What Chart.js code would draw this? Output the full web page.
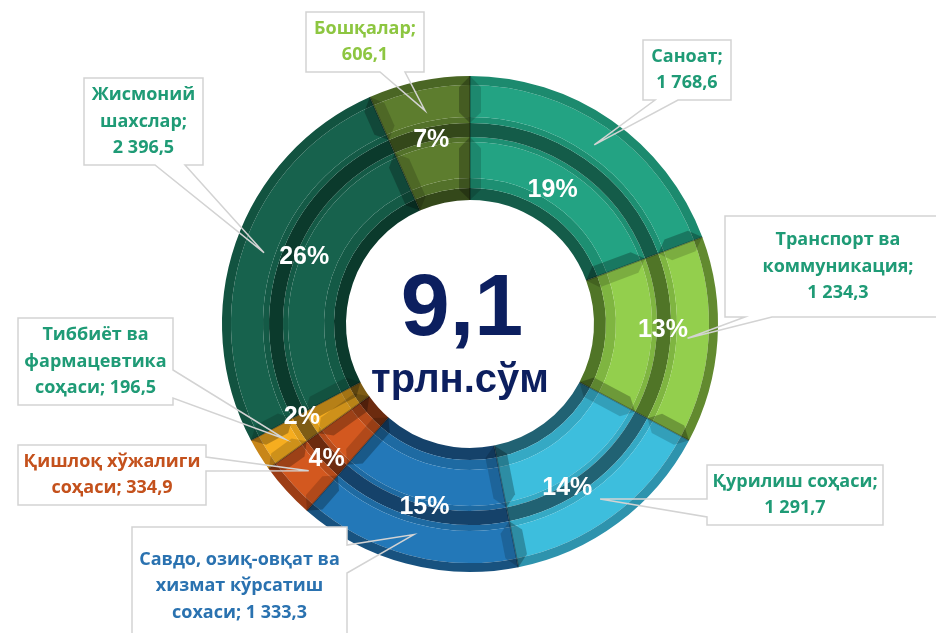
<!DOCTYPE html>
<html>
<head>
<meta charset="utf-8">
<script src="https://cdn.jsdelivr.net/npm/chart.js@4.4.0/dist/chart.umd.min.js"></script>
<style>
  html, body { margin: 0; padding: 0; background: #fff; }
  #wrap { width: 936px; height: 633px; }
</style>
</head>
<body>
<div id="wrap"><canvas id="chart" width="936" height="633"></canvas></div>
<script>
const categories = ['Саноат', 'Транспорт ва коммуникация', 'Қурилиш соҳаси', 'Савдо, озиқ-овқат ва хизмат кўрсатиш сохаси', 'Қишлоқ хўжалиги соҳаси', 'Тиббиёт ва фармацевтика соҳаси', 'Жисмоний шахслар', 'Бошқалар'];
const values = [1768.6, 1234.3, 1291.7, 1333.3, 334.9, 196.5, 2396.5, 606.1];
const totalText = '9,1';
const unitText = 'трлн.сўм';

// colours per segment
const baseColors = ['#23a383', '#93cf4d', '#3dbedd', '#2378b8', '#d3581f', '#f6ad1f', '#17624d', '#5d7d2e'];
const rimColors  = ['#1c8a6e', '#628a2f', '#2e93ad', '#18527f', '#9c3d15', '#c88619', '#125340', '#4a6624'];
const lipColors  = ['#1d8f72', '#7fb541', '#35a9c4', '#1e6aa2', '#b64b1a', '#dc9c1c', '#145a46', '#53712a'];
const darkColors = ['#145c49', '#507527', '#216273', '#15426a', '#6c2b0f', '#7e5c15', '#0b3a2c', '#34481a'];
const textColors = ['#1f9b76', '#1f9b76', '#1f9b76', '#2a72b0', '#c4511c', '#1f9b76', '#1f9b76', '#8dc641'];
const palette = { rim: rimColors, base: baseColors, lip: lipColors, dark: darkColors };

// ring bands, outer to inner (weights in px of the 124px ring)
const bands = [
  { w: 9, c: 'rim' }, { w: 32, c: 'base' }, { w: 6, c: 'lip' }, { w: 14, c: 'dark' },
  { w: 5, c: 'lip' }, { w: 36, c: 'base' }, { w: 10, c: 'lip' }, { w: 12, c: 'dark' }
];

// percent label placement: [radius, angle shift in degrees]
const pctAt = [[157, -3], [193, -2], [191, 6], [189, -1], [197, -1], [192, 3], [179, 3], [188, 0]];
const leaderR = 218;

// callout boxes: x, y, w, h, wedge side, wedge base a..b, words per line
const callouts = [
  { x: 643, y: 40, w: 88, h: 60, side: 'bottom', a: 655, b: 678, split: [1, 1] },
  { x: 725, y: 216, w: 226, h: 101, side: 'bottom', a: 745, b: 772, split: [2, 1, 1] },
  { x: 707, y: 465, w: 176, h: 60, side: 'left', a: 499, b: 517, split: [2, 1] },
  { x: 132, y: 527, w: 215, h: 118, side: 'right', a: 545, b: 573, split: [3, 2, 2] },
  { x: 18, y: 445, w: 188, h: 60, side: 'right', a: 457, b: 471, split: [2, 2] },
  { x: 18, y: 318, w: 155, h: 87, side: 'right', a: 370, b: 398, split: [2, 1, 2] },
  { x: 84, y: 78, w: 119, h: 87, side: 'bottom', a: 155, b: 185, split: [1, 1, 1] },
  { x: 306, y: 12, w: 118, h: 60, side: 'bottom', a: 380, b: 405, split: [1, 1] }
];

function fmt(v) {
  const parts = v.toFixed(1).split('.');
  return parts[0].replace(/\B(?=(\d{3})+(?!\d))/g, ' ') + ',' + parts[1];
}

function calloutPath(ctx, c, ax, ay) {
  const r = c.x + c.w, btm = c.y + c.h;
  ctx.beginPath();
  ctx.moveTo(c.x, c.y);
  if (c.side === 'top') { ctx.lineTo(c.a, c.y); ctx.lineTo(ax, ay); ctx.lineTo(c.b, c.y); }
  ctx.lineTo(r, c.y);
  if (c.side === 'right') { ctx.lineTo(r, c.a); ctx.lineTo(ax, ay); ctx.lineTo(r, c.b); }
  ctx.lineTo(r, btm);
  if (c.side === 'bottom') { ctx.lineTo(c.b, btm); ctx.lineTo(ax, ay); ctx.lineTo(c.a, btm); }
  ctx.lineTo(c.x, btm);
  if (c.side === 'left') { ctx.lineTo(c.x, c.b); ctx.lineTo(ax, ay); ctx.lineTo(c.x, c.a); }
  ctx.closePath();
}

// mitred bevel strip along a radial edge of one sub-ring
function bevel(ctx, cx, cy, a, dir, rin, rout, b, style) {
  const p = (rr, ang) => [cx + rr * Math.cos(ang), cy + rr * Math.sin(ang)];
  const pts = [p(rin, a), p(rout, a), p(rout - b, a + dir * b / (rout - b)), p(rin + b, a + dir * b / (rin + b))];
  ctx.beginPath();
  ctx.moveTo(pts[0][0], pts[0][1]);
  pts.slice(1).forEach(q => ctx.lineTo(q[0], q[1]));
  ctx.closePath();
  ctx.fillStyle = style;
  ctx.fill();
}

const decor = {
  id: 'decor',
  afterDatasetsDraw(chart) {
    const ctx = chart.ctx;
    const outer = chart.getDatasetMeta(0).data;
    const inner = chart.getDatasetMeta(bands.length - 1).data;
    const cx = outer[0].x, cy = outer[0].y;
    const R = outer[0].outerRadius, r0 = inner[0].innerRadius;
    const grooveOut = chart.getDatasetMeta(3).data[0].outerRadius;
    const grooveIn = chart.getDatasetMeta(3).data[0].innerRadius;
    const total = values.reduce((s, v) => s + v, 0);
    ctx.save();

    // bevelled segment edges
    outer.forEach((arc) => {
      [[grooveOut, R], [r0, grooveIn]].forEach(([ri, ro]) => {
        bevel(ctx, cx, cy, arc.startAngle, 1, ri, ro, 11, 'rgba(0,0,0,0.16)');
        bevel(ctx, cx, cy, arc.endAngle, -1, ri, ro, 11, 'rgba(0,0,0,0.26)');
      });
      const a = arc.startAngle;
      ctx.beginPath();
      ctx.moveTo(cx + r0 * Math.cos(a), cy + r0 * Math.sin(a));
      ctx.lineTo(cx + R * Math.cos(a), cy + R * Math.sin(a));
      ctx.strokeStyle = 'rgba(0,0,0,0.3)';
      ctx.lineWidth = 1.5;
      ctx.stroke();
    });

    // percentages
    ctx.fillStyle = '#fff';
    ctx.font = 'bold 25px "Liberation Sans", Arial, sans-serif';
    ctx.textAlign = 'center';
    ctx.textBaseline = 'middle';
    outer.forEach((arc, i) => {
      const mid = (arc.startAngle + arc.endAngle) / 2 + pctAt[i][1] * Math.PI / 180;
      const rr = pctAt[i][0];
      ctx.fillText(Math.round(values[i] / total * 100) + '%', cx + rr * Math.cos(mid), cy + rr * Math.sin(mid));
    });

    // callouts
    outer.forEach((arc, i) => {
      const c = callouts[i];
      const mid = (arc.startAngle + arc.endAngle) / 2;
      const ax = cx + leaderR * Math.cos(mid), ay = cy + leaderR * Math.sin(mid);
      ctx.fillStyle = '#fff';
      ctx.fillRect(c.x, c.y, c.w, c.h);
      calloutPath(ctx, c, ax, ay);
      ctx.strokeStyle = '#d3d3d3';
      ctx.lineWidth = 1.5;
      ctx.stroke();

      const words = (categories[i] + ';').split(' ').concat([fmt(values[i])]);
      const lines = [];
      let k = 0;
      c.split.forEach(n => { lines.push(words.slice(k, k + n).join(' ')); k += n; });
      let size = 18;
      ctx.font = 'bold ' + size + 'px "Open Sans", "Noto Sans", sans-serif';
      const widest = Math.max(...lines.map(l => ctx.measureText(l).width));
      if (widest > c.w - 8) {
        size = size * (c.w - 8) / widest;
        ctx.font = 'bold ' + size + 'px "Open Sans", "Noto Sans", sans-serif';
      }
      const lh = 26.5;
      const tx = c.x + c.w / 2;
      const ty = c.y + c.h / 2 - (lines.length - 1) * lh / 2;
      ctx.fillStyle = textColors[i];
      ctx.textAlign = 'center';
      ctx.textBaseline = 'middle';
      lines.forEach((l, j) => ctx.fillText(l, tx, ty + j * lh));
    });

    // centre text
    ctx.fillStyle = '#0c1f5f';
    ctx.textAlign = 'center';
    ctx.textBaseline = 'alphabetic';
    ctx.font = 'bold 88px "Liberation Sans", Arial, sans-serif';
    ctx.fillText(totalText, cx - 8, cy + 11);
    ctx.font = 'bold 40px "Liberation Sans", Arial, sans-serif';
    ctx.fillText(unitText, cx - 10, cy + 68);
    ctx.restore();
  }
};

new Chart(document.getElementById('chart'), {
  type: 'doughnut',
  data: {
    labels: categories,
    datasets: bands.map(b => ({
      data: values,
      backgroundColor: palette[b.c],
      weight: b.w,
      borderWidth: 0,
      hoverOffset: 0
    }))
  },
  options: {
    responsive: false,
    animation: false,
    cutout: '50%',
    layout: { padding: { left: 222, right: 218, top: 76, bottom: 61 } },
    plugins: { legend: { display: false }, tooltip: { enabled: false } },
    events: []
  },
  plugins: [decor]
});
</script>
</body>
</html>
